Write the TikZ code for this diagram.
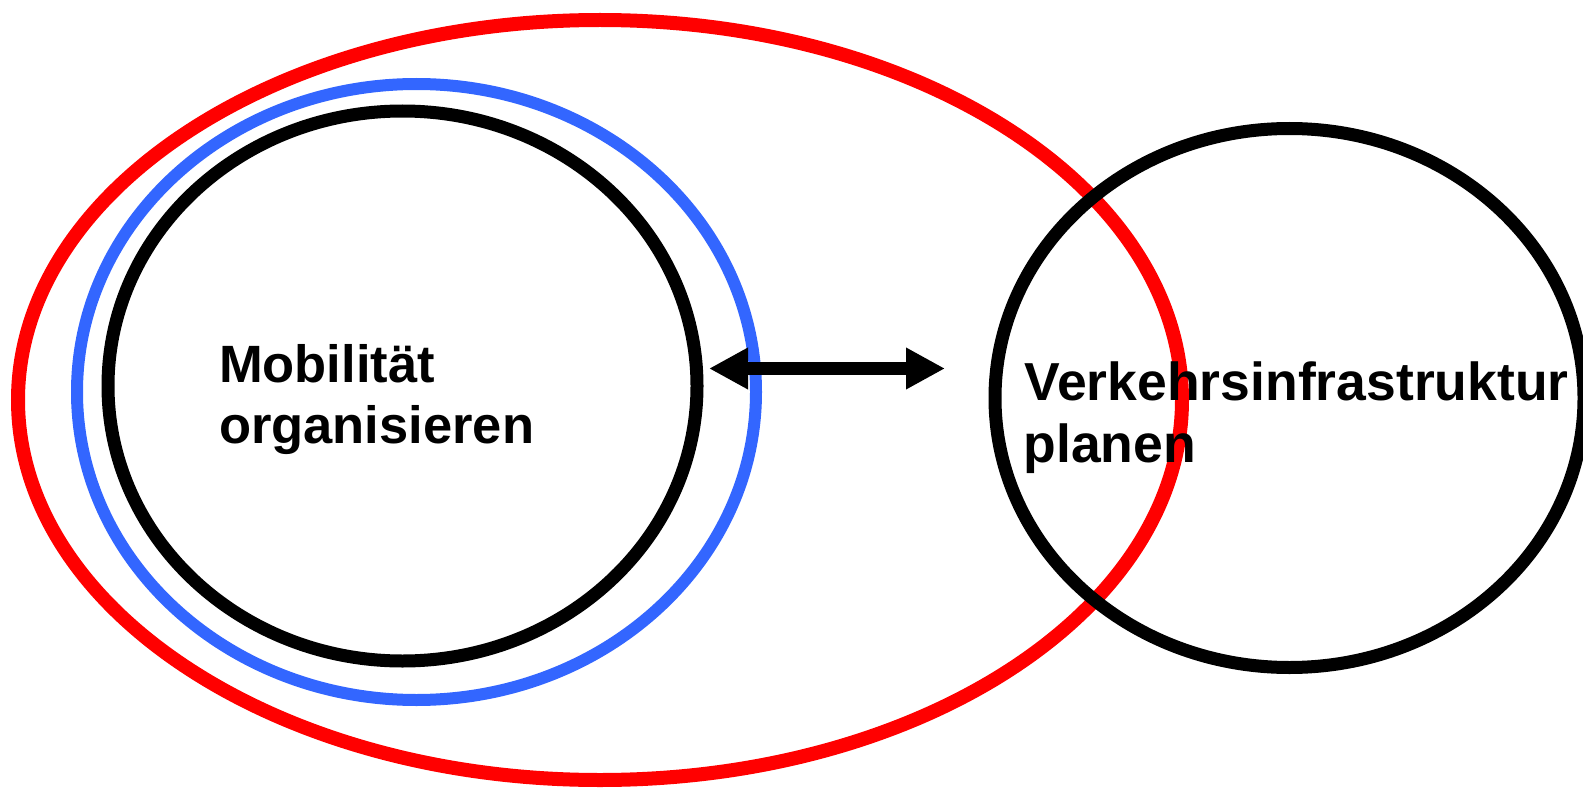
\documentclass[tikz,border=0pt]{standalone}
\usepackage{fontspec}
\setmainfont{Liberation Sans}
\usetikzlibrary{shapes.geometric,arrows.meta}
\definecolor{ringred}{RGB}{255,0,0}
\definecolor{ringblue}{RGB}{51,102,255}
\tikzset{
  ring/.style={ellipse, draw=#1, inner sep=0pt, outer sep=0pt},
  lbl/.style={anchor=base west, inner sep=0pt, outer sep=0pt, font=\bfseries},
  twoway/.style={line width=13pt, {Triangle[length=39pt,width=39pt]}-{Triangle[length=39pt,width=39pt]}}
}
\begin{document}
\begin{tikzpicture}[x=1pt,y=-1pt]
\useasboundingbox (0,0) rectangle (1583,789);
\node[ring=ringred, line width=14pt, minimum width=1164pt, minimum height=760pt] (outer) at (600,400) {};
\node[ring=ringblue, line width=12pt, minimum width=679pt, minimum height=616pt] (mid) at (416.5,392) {};
\node[ring=black, line width=13pt, minimum width=589pt, minimum height=550pt] (inner) at (402.5,386) {};
\node[ring=black, line width=13pt, minimum width=589pt, minimum height=539pt] (infra) at (1289.5,398) {};
\node[lbl, font=\bfseries\fontsize{52.5}{60}\selectfont] (m1) at (219,382) {Mobilität};
\node[lbl, font=\bfseries\fontsize{52.5}{60}\selectfont] (m2) at (219,443) {organisieren};
\node[lbl, font=\bfseries\fontsize{53.5}{62}\selectfont] (v1) at (1024.5,400) {Verkehrsinfrastruktur};
\node[lbl, font=\bfseries\fontsize{53.5}{62}\selectfont] (v2) at (1023.5,462) {planen};
\coordinate (aL) at (709,368.5);
\coordinate (aR) at (945,368.5);
\draw[twoway] (aL) -- (aR);
\end{tikzpicture}
\end{document}
